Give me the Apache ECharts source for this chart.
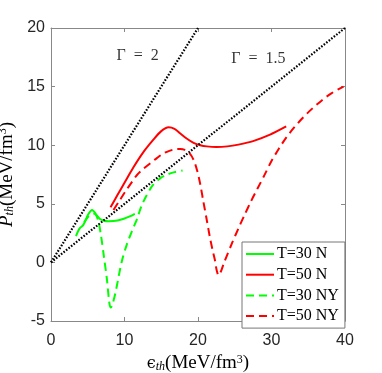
<!DOCTYPE html>
<html>
<head>
<meta charset="utf-8">
<script src="https://cdn.jsdelivr.net/npm/echarts@6/dist/echarts.min.js"></script>
<style>
  html, body { margin: 0; padding: 0; background: #fff; }
  #chart { width: 382px; height: 373px; }
</style>
</head>
<body>
<div id="chart"></div>
<script>
// axis ticks
const xTicks = [0, 10, 20, 30, 40];
const yTicks = [-5, 0, 5, 10, 15, 20];

// legend names
const seriesNames = ['T=30 N', 'T=50 N', 'T=30 NY', 'T=50 NY'];

// T=30 N (solid green)
const t30N = [
  [3.4, 2.25], [3.9, 2.9], [4.4, 3.2], [5.07, 4.1], [5.6, 4.47], [6.2, 4.04],
  [6.67, 3.7], [7.2, 3.56], [7.8, 3.52], [8.5, 3.53], [9.2, 3.6], [9.9, 3.72],
  [10.7, 3.92], [11.4, 4.15]
];

// T=50 N (solid red)
const t50N = [
  [8.1, 4.7], [9.0, 5.7], [10.0, 6.8], [11.2, 8.1], [12.5, 9.35], [13.9, 10.45],
  [15.0, 11.2], [16.0, 11.53], [16.8, 11.4], [17.6, 11.0], [18.5, 10.55],
  [19.4, 10.2], [20.3, 10.0], [21.2, 9.9], [22.5, 9.85], [24.0, 9.9],
  [25.5, 10.05], [27.5, 10.35], [29.8, 10.9], [32.0, 11.6]
];

// T=30 NY (dashed green)
const t30NY = [
  [4.5, 3.4], [5.2, 4.0], [5.9, 4.15], [6.4, 3.6], [6.8, 2.3], [7.2, 0.5],
  [7.6, -1.4], [7.95, -3.5], [8.15, -3.85], [8.4, -3.5], [8.8, -2.5],
  [9.6, 0.0], [10.3, 1.5], [11.0, 2.65], [11.7, 3.7], [12.3, 4.8], [13.0, 5.7],
  [13.8, 6.55], [14.8, 7.15], [15.8, 7.5], [16.8, 7.7], [17.9, 7.85]
];

// T=50 NY (dashed red)
const t50NY = [
  [8.5, 4.47], [9.3, 5.25], [10.1, 6.03], [11.0, 6.85], [11.7, 7.46],
  [12.6, 8.0], [13.5, 8.46], [14.4, 8.9], [15.3, 9.3], [16.1, 9.52],
  [16.9, 9.65], [17.6, 9.67], [18.2, 9.6], [18.8, 9.35], [19.4, 8.75],
  [19.9, 7.8], [20.3, 6.7], [20.7, 5.3], [21.2, 3.6], [21.6, 2.2],
  [22.0, 1.0], [22.3, 0.2], [22.55, -0.7], [22.8, -1.1], [23.1, -0.8],
  [23.5, -0.1], [24.6, 1.6], [25.5, 2.9], [26.3, 4.0], [27.2, 5.2],
  [28.1, 6.3], [29.0, 7.4], [30.0, 8.65], [31.0, 9.7], [32.0, 10.65],
  [33.0, 11.45], [34.2, 12.3], [35.5, 13.1], [36.8, 13.8], [38.2, 14.45],
  [39.8, 15.0]
];

// reference lines P = (Gamma - 1) * eps
const gamma2Line = [[0, 0], [20, 20]];
const gamma15Line = [[0, 0], [40, 20]];

// text labels inside the plot (en spaces around '=')
const gammaLabels = [
  { name: 'Γ\u2002=\u20022', value: [11.8, 17.6] },
  { name: 'Γ\u2002=\u20021.5', value: [28.2, 17.4] }
];

const frameColor = '#888';
const tickColor = '#262626';
const serif = '"Liberation Serif", "DejaVu Serif", serif';
const green = '#00ff00';
const red = '#ff0000';

const chart = echarts.init(document.getElementById('chart'));

function frameAxis(pos, min, max, interval, showLabel) {
  return {
    type: 'value',
    position: pos,
    min: min,
    max: max,
    interval: interval,
    splitLine: { show: false },
    axisLine: { show: true, onZero: false, lineStyle: { color: frameColor, width: 1 } },
    axisTick: { show: true, inside: true, length: 4, lineStyle: { color: frameColor } },
    axisLabel: {
      show: showLabel,
      color: tickColor,
      fontFamily: '"Liberation Sans", Arial, sans-serif',
      fontSize: 16,
      margin: pos === 'left' ? 6 : 12
    }
  };
}

const xMain = frameAxis('bottom', xTicks[0], xTicks[xTicks.length - 1], 10, true);
xMain.name = '{e|ϵ}{sub|th}{n|(MeV/fm}{sup|3}{n|)}';
xMain.nameLocation = 'middle';
xMain.nameGap = 28;
xMain.nameTextStyle = {
  rich: {
    e: { fontFamily: '"DejaVu Serif", serif', fontSize: 16, color: '#000' },
    sub: { fontFamily: serif, fontStyle: 'italic', fontSize: 12, color: '#000', verticalAlign: 'bottom', lineHeight: 12 },
    n: { fontFamily: serif, fontSize: 19, color: '#000' },
    sup: { fontFamily: serif, fontSize: 12, color: '#000', verticalAlign: 'top', lineHeight: 12 }
  }
};

const yMain = frameAxis('left', yTicks[0], yTicks[yTicks.length - 1], 5, true);
yMain.name = '{p|P}{sub|th}{n|(MeV/fm}{sup|3}{n|)}';
yMain.nameLocation = 'middle';
yMain.nameRotate = 90;
yMain.nameGap = 28;
yMain.nameTextStyle = {
  rich: {
    p: { fontFamily: serif, fontStyle: 'italic', fontSize: 19, color: '#000' },
    sub: { fontFamily: serif, fontStyle: 'italic', fontSize: 12, color: '#000', verticalAlign: 'bottom', lineHeight: 12 },
    n: { fontFamily: serif, fontSize: 19, color: '#000' },
    sup: { fontFamily: serif, fontSize: 12, color: '#000', verticalAlign: 'top', lineHeight: 12 }
  }
};

function curve(name, data, color, dashed) {
  return {
    name: name,
    type: 'line',
    data: data,
    smooth: 0.3,
    symbol: 'none',
    lineStyle: { color: color, width: 2, type: dashed ? [8, 5] : 'solid' },
    itemStyle: { color: color },
    z: 3
  };
}

function refLine(data) {
  return {
    type: 'line',
    data: data,
    symbol: 'none',
    silent: true,
    lineStyle: { color: '#000', width: 2.2, type: [1.6, 1.6] },
    z: 4
  };
}

chart.setOption({
  animation: false,
  backgroundColor: '#fff',
  grid: { left: 51, top: 28, width: 294, height: 293, containLabel: false, outerBoundsMode: 'none' },
  xAxis: [xMain, frameAxis('top', xTicks[0], xTicks[xTicks.length - 1], 10, false)],
  yAxis: [yMain, frameAxis('right', yTicks[0], yTicks[yTicks.length - 1], 5, false)],
  legend: {
    data: seriesNames,
    orient: 'vertical',
    left: 242,
    top: 242,
    itemWidth: 28,
    itemHeight: 14,
    itemGap: 4.7,
    padding: [4, 6, 4, 3],
    backgroundColor: '#fff',
    borderColor: '#777',
    borderWidth: 1,
    borderRadius: 0,
    itemStyle: { opacity: 0, borderWidth: 0 },
    textStyle: { fontFamily: serif, fontSize: 16, color: '#000', padding: [0, 0, 0, -2] }
  },
  series: [
    curve(seriesNames[0], t30N, green, false),
    curve(seriesNames[1], t50N, red, false),
    curve(seriesNames[2], t30NY, green, true),
    curve(seriesNames[3], t50NY, red, true),
    refLine(gamma2Line),
    refLine(gamma15Line),
    {
      type: 'scatter',
      data: gammaLabels,
      symbolSize: 0,
      silent: true,
      label: {
        show: true,
        position: 'inside',
        formatter: '{b}',
        fontFamily: serif,
        fontSize: 16,
        color: '#000'
      }
    }
  ]
});
</script>
</body>
</html>
